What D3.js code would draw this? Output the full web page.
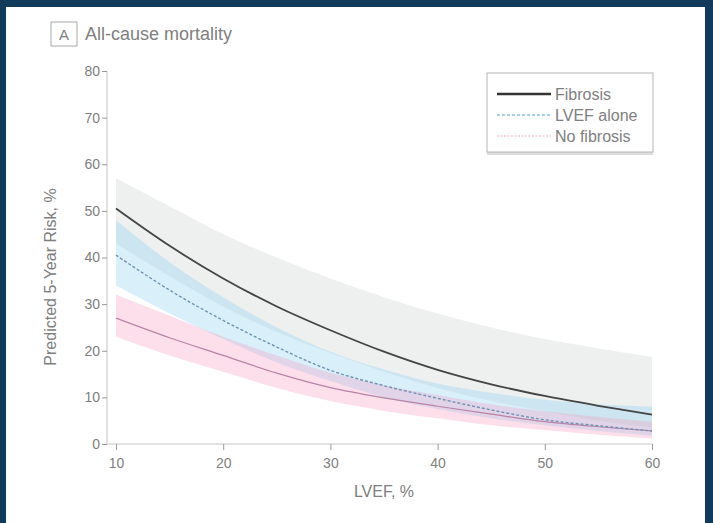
<!DOCTYPE html>
<html>
<head>
<meta charset="utf-8">
<script src="https://cdn.jsdelivr.net/npm/d3@7"></script>
<style>
  body { margin: 0; background: #123a5b; }
  svg { display: block; }
  text { font-family: "Liberation Sans", Arial, sans-serif; fill: #808080; }
</style>
</head>
<body>
<div id="vis"></div>
<script>
const WIDTH = 713;
const HEIGHT = 523;

// LVEF values where the curves were read
const LVEF = [10, 15, 20, 25, 30, 35, 40, 45, 50, 55, 60];

// predicted 5-year risk, %
const FIBROSIS = [50.5, 42.5, 35.5, 29.5, 24.4, 19.8, 15.9, 12.8, 10.3, 8.2, 6.3];
const FIBROSIS_LO = [43, 36, 29.5, 24, 19.5, 15.5, 12, 9.2, 7, 5, 3.5];
const FIBROSIS_HI = [57, 51, 45, 40, 35.5, 31.5, 28, 25, 22.5, 20.5, 18.7];

const LVEF_ALONE = [40.5, 33, 26.5, 20.8, 15.8, 12.5, 9.8, 7.3, 5.2, 3.9, 2.8];
const LVEF_ALONE_LO = [34, 28, 22.5, 17.5, 13.5, 10, 7.5, 5.5, 4, 2.8, 1.8];
const LVEF_ALONE_HI = [48, 39, 31.5, 25, 19.8, 16, 13, 11, 9.5, 8.5, 8];

const NO_FIBROSIS = [27, 22.8, 19, 15.2, 12.1, 9.9, 8.1, 6.4, 4.8, 3.7, 2.8];
const NO_FIBROSIS_LO = [23, 19, 15.5, 12, 9.2, 7.1, 5.5, 4, 3, 2, 1.2];
const NO_FIBROSIS_HI = [32, 27.5, 23, 19, 15.3, 12.6, 10.5, 8.5, 7, 5.8, 4.8];

const X_TICKS = [10, 20, 30, 40, 50, 60];
const Y_TICKS = [0, 10, 20, 30, 40, 50, 60, 70, 80];

const SVG = d3.select("#vis").append("svg")
    .attr("width", WIDTH).attr("height", HEIGHT);

// white panel
SVG.append("rect")
    .attr("x", 6).attr("y", 7)
    .attr("width", 699).attr("height", HEIGHT - 7)
    .attr("fill", "white");

const x = d3.scaleLinear().domain([10, 60]).range([116, 652]);
const y = d3.scaleLinear().domain([0, 80]).range([444, 71]);

const series = [
  { name: "Fibrosis", mid: FIBROSIS, lo: FIBROSIS_LO, hi: FIBROSIS_HI,
    band: "rgb(200,204,204)", line: "#444", legend: "#333", width: 1.8, dash: null, lw: 2.6 },
  { name: "LVEF alone", mid: LVEF_ALONE, lo: LVEF_ALONE_LO, hi: LVEF_ALONE_HI,
    band: "rgb(130,205,242)", line: "#6f93b3", legend: "#8cc4e6", width: 1.4, dash: "3,2", lw: 1.4 },
  { name: "No fibrosis", mid: NO_FIBROSIS, lo: NO_FIBROSIS_LO, hi: NO_FIBROSIS_HI,
    band: "rgb(244,150,190)", line: "#b983a6", legend: "#e6aec4", width: 1.2, dash: null, lw: 1.2 }
];

const area = d3.area()
    .x((d, i) => x(LVEF[i]))
    .y0(d => y(d[0]))
    .y1(d => y(d[1]))
    .curve(d3.curveCatmullRom);

const line = d3.line()
    .x((d, i) => x(LVEF[i]))
    .y(d => y(d))
    .curve(d3.curveCatmullRom);

// bands first, so lines sit on top
series.forEach(s => {
  SVG.append("path")
      .attr("d", area(s.lo.map((v, i) => [v, s.hi[i]])))
      .attr("fill", s.band)
      .attr("opacity", 0.3);
});

series.slice().reverse().forEach(s => {
  SVG.append("path")
      .attr("d", line(s.mid))
      .attr("fill", "none")
      .attr("stroke", s.line)
      .attr("stroke-width", s.width)
      .attr("stroke-dasharray", s.dash);
});

// axes
const yAxis = SVG.append("g")
    .attr("transform", "translate(107,0)")
    .call(d3.axisLeft(y).tickValues(Y_TICKS).tickSize(5).tickPadding(2));
const xAxis = SVG.append("g")
    .attr("transform", `translate(0,${y(0)})`)
    .call(d3.axisBottom(x).tickValues(X_TICKS).tickSize(6).tickPadding(8));

[yAxis, xAxis].forEach(a => {
  a.select(".domain").attr("stroke", "#c4c4c4");
  a.selectAll(".tick line").attr("stroke", "#999");
  a.selectAll(".tick text").attr("fill", "#909090").style("font-size", "14px");
});
xAxis.select(".domain").attr("d", `M107,0H${x(60)}`);
yAxis.select(".domain").attr("d", `M0,${y(80)}V${y(0)}`);

// axis titles
SVG.append("text")
    .attr("x", (x(10) + x(60)) / 2).attr("y", 497)
    .attr("text-anchor", "middle")
    .style("font-size", "16px")
    .text("LVEF, %");

SVG.append("text")
    .attr("transform", "translate(56,277) rotate(-90)")
    .attr("text-anchor", "middle")
    .style("font-size", "16px")
    .text("Predicted 5-Year Risk, %");

// panel title
SVG.append("rect")
    .attr("x", 51).attr("y", 22).attr("width", 26).attr("height", 24)
    .attr("fill", "none").attr("stroke", "#a8a8a8");
SVG.append("text")
    .attr("x", 64).attr("y", 40)
    .attr("text-anchor", "middle")
    .style("font-size", "15px")
    .attr("fill", "#707070")
    .text("A");
SVG.append("text")
    .attr("x", 85).attr("y", 40)
    .style("font-size", "18px")
    .attr("fill", "#707070")
    .text("All-cause mortality");

// legend
const LEG = SVG.append("g");
LEG.append("rect")
    .attr("x", 487).attr("y", 76).attr("width", 166).attr("height", 79)
    .attr("fill", "#ddd");
LEG.append("rect")
    .attr("x", 487).attr("y", 73).attr("width", 166).attr("height", 79)
    .attr("fill", "white").attr("stroke", "#b5b5b5");

series.forEach((s, i) => {
  const yy = 94 + i * 21;
  LEG.append("line")
      .attr("x1", 497).attr("x2", 551)
      .attr("y1", yy).attr("y2", yy)
      .attr("stroke", s.legend)
      .attr("stroke-width", s.lw)
      .attr("stroke-dasharray", i === 0 ? null : (i === 1 ? "3,2" : "2,1.5"));
  LEG.append("text")
      .attr("x", 555).attr("y", yy + 6)
      .style("font-size", "16px")
      .attr("fill", "#7a7a7a")
      .text(s.name);
});
</script>
</body>
</html>
